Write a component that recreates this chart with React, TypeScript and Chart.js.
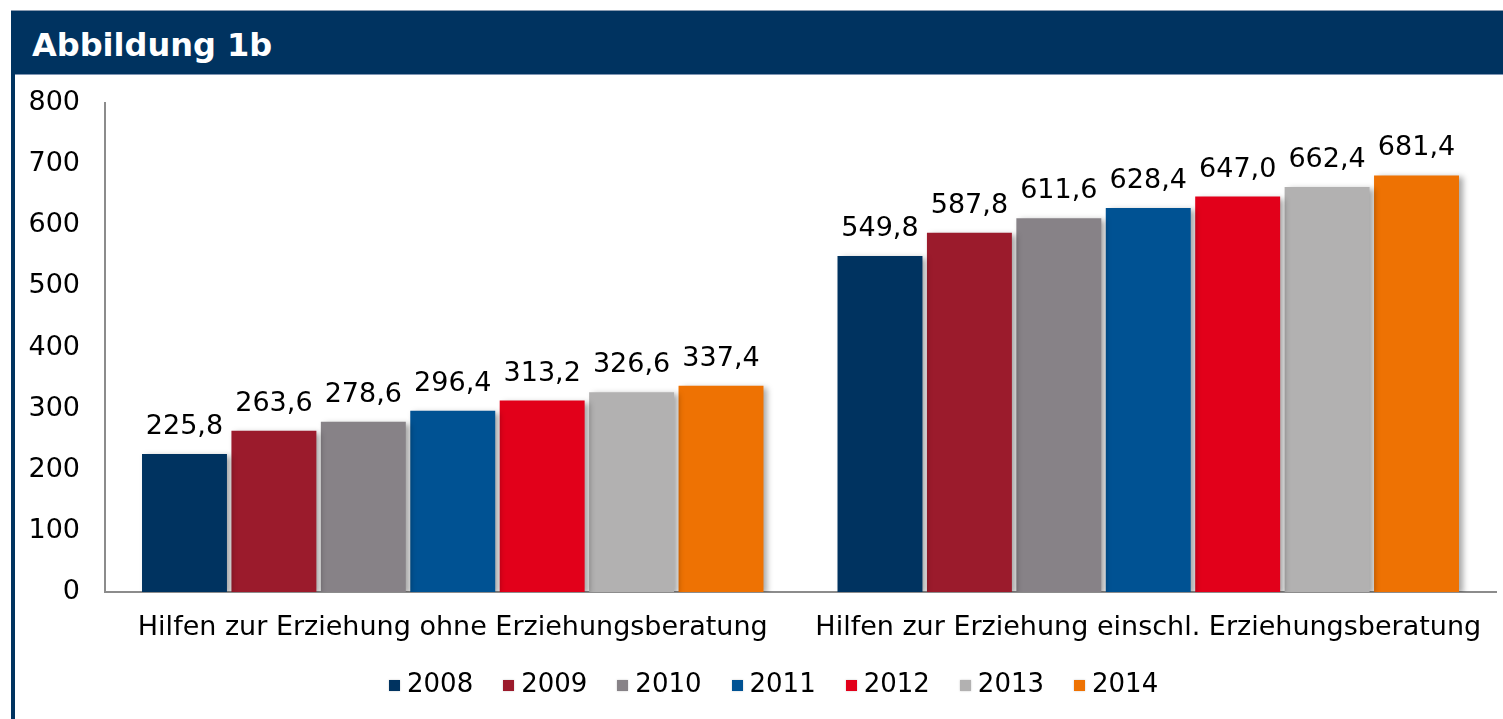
import React, { useEffect, useRef } from 'react';
import { Chart, registerables } from 'chart.js';

Chart.register(...registerables);

const CATEGORIES = [
  'Hilfen zur Erziehung ohne Erziehungsberatung',
  'Hilfen zur Erziehung einschl. Erziehungsberatung',
];
const YEARS = ['2008', '2009', '2010', '2011', '2012', '2013', '2014'];
const V2008 = [225.8, 549.8];
const V2009 = [263.6, 587.8];
const V2010 = [278.6, 611.6];
const V2011 = [296.4, 628.4];
const V2012 = [313.2, 647.0];
const V2013 = [326.6, 662.4];
const V2014 = [337.4, 681.4];
const SERIES = [V2008, V2009, V2010, V2011, V2012, V2013, V2014];
const COLORS = ['#003360', '#9B1B2C', '#878287', '#005293', '#E2001A', '#B2B1B1', '#EE7203'];
const Y_MIN = 0;
const Y_MAX = 800;
const Y_STEP = 100;
const TITLE = 'Abbildung 1b';

const FONT = '"DejaVu Sans", Verdana, sans-serif';
const W = 1503;
const H = 719;

export default function App() {
  const ref = useRef<HTMLCanvasElement>(null);

  useEffect(() => {
    if (!ref.current) return;
    const shadowPlugin = {
      id: 'barShadow',
      beforeDatasetsDraw(chart: any) {
        const ctx = chart.ctx;
        ctx.save();
        ctx.shadowColor = 'rgba(0,0,0,0.35)';
        ctx.shadowBlur = 6;
        ctx.shadowOffsetX = 4;
        ctx.shadowOffsetY = 2;
      },
      afterDatasetsDraw(chart: any) {
        chart.ctx.restore();
      },
    };
    const labelPlugin = {
      id: 'valueLabels',
      afterDraw(chart: any) {
        const ctx = chart.ctx;
        ctx.save();
        ctx.font = `27px ${FONT}`;
        ctx.fillStyle = '#000';
        ctx.textAlign = 'center';
        ctx.textBaseline = 'alphabetic';
        chart.data.datasets.forEach((ds: any, i: number) => {
          const meta = chart.getDatasetMeta(i);
          meta.data.forEach((bar: any, j: number) => {
            const v = ds.data[j] as number;
            ctx.fillText(v.toFixed(1).replace('.', ','), bar.x, bar.y - 20);
          });
        });
        ctx.restore();
      },
    };

    const chart = new Chart(ref.current, {
      type: 'bar',
      data: {
        labels: CATEGORIES,
        datasets: YEARS.map((y, i) => ({
          label: y,
          data: SERIES[i],
          backgroundColor: COLORS[i],
          borderWidth: 0,
          categoryPercentage: 0.9,
          barPercentage: 0.95,
        })),
      },
      options: {
        responsive: false,
        animation: false,
        devicePixelRatio: 1,
        layout: { padding: { left: 0, top: 103, right: 7, bottom: 0 } },
        plugins: {
          legend: { display: false },
          tooltip: { enabled: false },
          title: { display: false },
        },
        scales: {
          x: {
            grid: { display: false, drawTicks: false },
            border: { display: true, color: '#8c8c8c', width: 2 },
            ticks: {
              font: { family: FONT, size: 27 },
              color: '#000',
              padding: 20,
              maxRotation: 0,
              autoSkip: false,
            },
            afterFit: (s: any) => {
              s.height = H - 592;
            },
          },
          y: {
            min: Y_MIN,
            max: Y_MAX,
            grid: { display: false, drawTicks: false },
            border: { display: true, color: '#8c8c8c', width: 2 },
            ticks: {
              stepSize: Y_STEP,
              font: { family: FONT, size: 27 },
              color: '#000',
              padding: 25,
            },
            afterFit: (s: any) => {
              s.width = 105;
            },
          },
        },
      },
      plugins: [shadowPlugin, labelPlugin],
    });
    return () => chart.destroy();
  }, []);

  return (
    <div
      style={{
        position: 'fixed',
        left: 0,
        top: 0,
        width: W,
        height: H,
        overflow: 'hidden',
        background: '#fff',
        fontFamily: FONT,
      }}
    >
      <canvas
        ref={ref}
        width={W}
        height={H}
        style={{ position: 'absolute', left: 0, top: 0, width: W, height: H }}
      />
      <div
        style={{
          position: 'absolute',
          left: 11,
          top: 10,
          width: W - 11,
          height: 65,
          background: '#003360',
          borderTop: '1px solid #8a9bb0',
          borderBottom: '1px solid #7f95b3',
          boxSizing: 'border-box',
        }}
      >
        <div
          style={{
            position: 'absolute',
            left: 21,
            top: 16,
            color: '#fff',
            fontWeight: 'bold',
            fontSize: 32,
            lineHeight: '36px',
            whiteSpace: 'nowrap',
          }}
        >
          {TITLE}
        </div>
      </div>
      <div
        style={{
          position: 'absolute',
          left: 11,
          top: 74,
          width: 4,
          height: H - 74,
          background: '#003360',
        }}
      />
      <div
        style={{
          position: 'absolute',
          left: 389,
          top: 667,
          display: 'flex',
          alignItems: 'center',
          gap: 30,
          whiteSpace: 'nowrap',
        }}
      >
        {YEARS.map((y, i) => (
          <div key={y} style={{ display: 'flex', alignItems: 'center' }}>
            <span
              style={{
                display: 'inline-block',
                width: 11,
                height: 11,
                background: COLORS[i],
                boxShadow: '0 0 2px rgba(0,0,0,0.2)',
                marginRight: 7,
                marginTop: 4,
              }}
            />
            <span style={{ fontSize: 26, lineHeight: '32px', color: '#000' }}>{y}</span>
          </div>
        ))}
      </div>
    </div>
  );
}
